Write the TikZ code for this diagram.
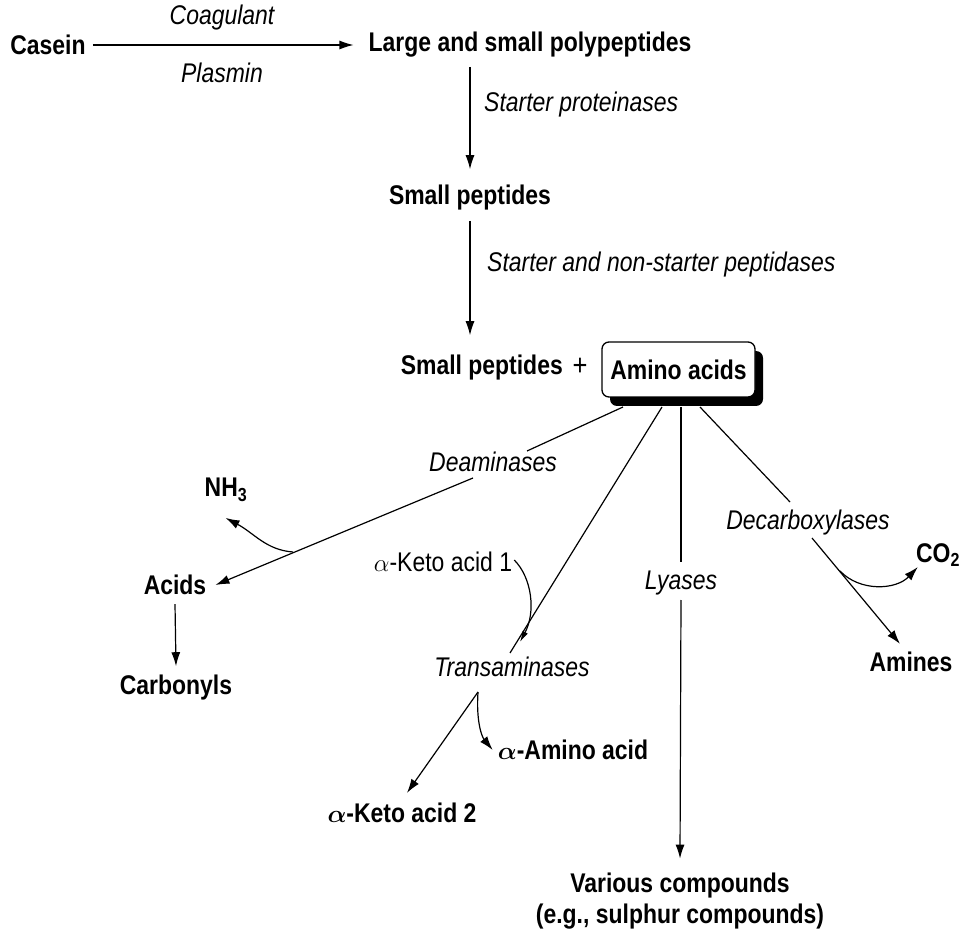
\documentclass[tikz,border=0pt]{standalone}
\usepackage{amsmath}
\usepackage{fontspec}
\setmainfont{Liberation Sans}[FakeStretch=0.85]
\usetikzlibrary{arrows.meta,shadows}
\begin{document}
\begin{tikzpicture}[x=1pt,y=-1pt,
  every node/.style={inner sep=0pt},
  cmp/.style={font=\fontsize{27}{31}\selectfont\bfseries},
  enz/.style={font=\fontsize{27}{31}\selectfont\itshape},
  rg/.style={font=\fontsize{27}{31}\selectfont},
  ln/.style={line width=1.2pt},
  arr/.style={line width=1.2pt,-{Latex[length=14pt,width=9pt]}}]
\useasboundingbox[fill=white] (0,0) rectangle (962,933);

% nodes
\node[cmp] (casein) at (48,45) {Casein};
\node[cmp] (large) at (530,45) {Large and small polypeptides};
\node[enz] (coag) at (222,18) {Coagulant};
\node[enz] (plas) at (222,73) {Plasmin};
\node[cmp] (sp1) at (470,198) {Small peptides};
\node[enz,anchor=west] (stp) at (484,105) {Starter proteinases};
\node[enz,anchor=west] (snp) at (487,265) {Starter and non-starter peptidases};
\node[cmp,anchor=east] (sp2) at (563,368) {Small peptides};
\node[rg,font=\fontsize{30}{32}\selectfont] (plus) at (580,367) {+};
\node[cmp,draw,fill=white,rounded corners=7pt,line width=1.3pt,
      minimum width=153pt,minimum height=55pt,
      drop shadow={shadow xshift=8pt,shadow yshift=-9pt,fill=black,opacity=1}]
      (amino) at (678.5,369.5) {Amino acids};

\node[enz] (deam) at (493,462) {Deaminases};
\node[cmp] (nh3) at (226,490) {NH\textsubscript{3}};
\node[cmp] (acids) at (175,585) {Acids};
\node[cmp] (carb) at (176,688) {Carbonyls};
\node[rg] (ka1) at (443,562) {$\alpha$-Keto acid 1};
\node[enz] (trans) at (512,667) {Transaminases};
\node[cmp] (aam) at (573,750) {$\boldsymbol{\alpha}$-Amino acid};
\node[cmp] (ka2) at (402,813) {$\boldsymbol{\alpha}$-Keto acid 2};
\node[enz] (lyas) at (681,583) {Lyases};
\node[cmp,align=center,font=\fontsize{27}{31}\selectfont\bfseries] (var) at (680,901) {Various compounds\\(e.g., sulphur compounds)};
\node[enz] (decarb) at (808,523) {Decarboxylases};
\node[cmp] (co2) at (938,555) {CO\textsubscript{2}};
\node[cmp] (amines) at (911,662) {Amines};

% coordinates
\coordinate (dA) at (623,407);
\coordinate (dB) at (527,451);
\coordinate (dC) at (473,478);
\coordinate (j1) at (293,552);
\coordinate (tA) at (662,407);
\coordinate (tB) at (510,653);
\coordinate (j2) at (478,692);
\coordinate (lA) at (681,407);
\coordinate (lB) at (681,562);
\coordinate (lC) at (681,600);
\coordinate (cA) at (700,407);
\coordinate (cB) at (790,502);
\coordinate (cC) at (812,538);
\coordinate (j3) at (840,571);

% top chain
\draw[arr] ([xshift=7pt]casein.east) -- ([xshift=-15pt]large.west);
\draw[arr] ([yshift=-9pt]large.south -| sp1.north) -- ([yshift=16pt]sp1.north);
\draw[arr] ([yshift=-10pt]sp1.south) -- ([yshift=20pt]sp2.north -| sp1.north);

% deaminases
\draw[ln] (dA) -- (dB);
\draw[arr] (dC) -- ([xshift=9pt]acids.east);
\draw[arr] (j1) .. controls (266,550) and (254,533) .. ([shift={(21,16)}]nh3.south west);
\draw[arr] ([yshift=-9pt]acids.south) -- ([yshift=9pt]carb.north);

% transaminases
\draw[ln] (tA) -- (tB);
\draw[line width=1.2pt,-{Latex[length=11pt,width=6pt]}] ([shift={(2,-2)}]ka1.east) .. controls (532,578) and (536,612) .. (520,642);
\draw[arr] (j2) -- ([xshift=5pt,yshift=10pt]ka2.north);
\draw[arr] (j2) .. controls (476,722) and (482,737) .. ([xshift=-5pt]aam.west);

% lyases
\draw[ln] (lA) -- (lB);
\draw[arr] (lC) -- ([yshift=14pt]var.north);

% decarboxylases
\draw[ln] (cA) -- (cB);
\draw[arr] (cC) -- ([xshift=-11pt,yshift=8pt]amines.north);
\draw[arr] (j3) .. controls (860,592) and (896,590) .. ([xshift=2pt,yshift=-12pt]co2.west);
\end{tikzpicture}
\end{document}
